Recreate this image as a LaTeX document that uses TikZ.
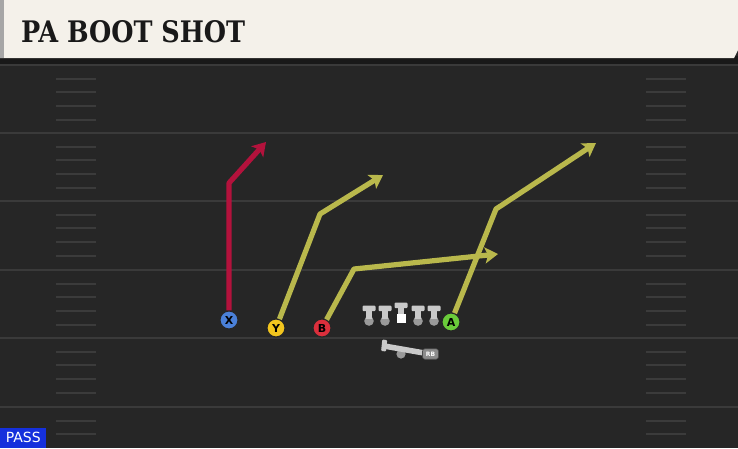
\documentclass[tikz,border=0pt]{standalone}
\usepackage{fontspec}
\setmainfont{DejaVu Sans}
\newfontfamily\titlefont{DejaVu Serif Condensed Bold}
\usetikzlibrary{arrows.meta}
\definecolor{field}{HTML}{262626}
\definecolor{yardline}{HTML}{3A3A3A}
\definecolor{hashc}{HTML}{3B3B3B}
\definecolor{cream}{HTML}{F4F1EA}
\definecolor{routered}{HTML}{B3123C}
\definecolor{routeyel}{HTML}{B9B84C}
\definecolor{pblue}{HTML}{4A80D8}
\definecolor{pyellow}{HTML}{F2C51E}
\definecolor{pred}{HTML}{DB2F3C}
\definecolor{pgreen}{HTML}{6ACB3A}
\definecolor{passblue}{HTML}{1530DC}
\definecolor{linegray}{HTML}{C9C9C9}
\definecolor{dotgray}{HTML}{9A9A9A}
\tikzset{
  player/.style={circle, draw=black!85, line width=1.1pt, minimum size=18pt, inner sep=0pt,
    font=\bfseries\fontsize{11}{11}\selectfont, text=black},
  route/.style={line width=5.2pt, -{Stealth[length=13pt,width=16pt,inset=3pt]}, line join=round},
  yard/.style={yardline, line width=1.8pt},
  hash/.style={hashc, line width=2pt},
}
\begin{document}
\begin{tikzpicture}[x=1pt,y=-1pt]
\useasboundingbox (0,0) rectangle (738,448);
\fill[field] (0,0) rectangle (738,448);
% yard lines
\foreach \y in {65,133,201,270,338,407} \draw[yard] (0,\y) -- (738,\y);
% hashes
\foreach \b in {65,133,201,270,338} {
  \foreach \k in {1,2,3,4} {
    \draw[hash] (56,\b+\k*13.7) -- (96,\b+\k*13.7);
    \draw[hash] (646,\b+\k*13.7) -- (686,\b+\k*13.7);
  }
}
\foreach \k in {1,2} {
  \draw[hash] (56,407+\k*13.7) -- (96,407+\k*13.7);
  \draw[hash] (646,407+\k*13.7) -- (686,407+\k*13.7);
}
% title bar
\fill[black!90] (0,56) rectangle (738,64);
\fill[cream] (0,0) -- (738,0) -- (738,50) -- (734,58) -- (0,58) -- cycle;
\fill[black!35] (0,0) rectangle (4,58);
\node[anchor=west, inner sep=0pt, text=black!90] (title) at (21,32)
  {\resizebox{224pt}{22pt}{\titlefont PA BOOT SHOT}};
% players
\node[player, fill=pblue] (X) at (229,320) {X};
\node[player, fill=pyellow] (Y) at (276,328) {Y};
\node[player, fill=pred] (B) at (322,328) {B};
\node[player, fill=pgreen] (A) at (451,322) {A};
% route turn points
\coordinate (x1) at (229,183); \coordinate (x2) at (266,142);
\coordinate (y1) at (320,214); \coordinate (y2) at (383,175);
\coordinate (b1) at (354,269); \coordinate (b2) at (498,254);
\coordinate (a1) at (496,209); \coordinate (a2) at (596,143);
% routes
\draw[route, routered] (X) -- (x1) -- (x2);
\draw[route, routeyel] (Y) -- (y1) -- (y2);
\draw[route, routeyel] (B) -- (b1) -- (b2);
\draw[route, routeyel] (A) -- (a1) -- (a2);
% linemen
\foreach \x/\n in {369/l1,385/l2,418/l4,434/l5} {
  \fill[dotgray] (\x,321) circle (4.8);
  \fill[linegray] (\x-2.7,309) rectangle (\x+2.7,319);
  \fill[linegray, rounded corners=1pt] (\x-6.5,305.5) rectangle (\x+6.5,311);
  \coordinate (\n) at (\x,321);
}
\fill[linegray] (398.3,306) rectangle (403.7,315);
\fill[linegray, rounded corners=1pt] (394.5,302.5) rectangle (407.5,308);
\node[fill=white, minimum size=9pt, inner sep=0pt] (C) at (401,318.5) {};
% running back
\fill[dotgray] (401,354) circle (4.6);
\fill[linegray] (386,343.5) -- (426,350.5) -- (425.1,356) -- (385.1,349) -- cycle;
\fill[linegray, rounded corners=1pt] (382.3,339.5) -- (387.2,340.1) -- (386,351.5) -- (381.1,350.9) -- cycle;
\node[fill=black!45, draw=black!70, line width=0.6pt, rounded corners=2.5pt, inner sep=0pt,
  minimum width=16pt, minimum height=10.5pt, font=\bfseries\fontsize{6}{6}\selectfont, text=white] (RB) at (430.5,354) {RB};
% pass tag
\node[fill=passblue, text=white, anchor=south west, inner sep=0pt, minimum width=46pt, minimum height=20pt, font=\fontsize{14}{14}\selectfont] (pass) at (0,448) {PASS};
\end{tikzpicture}
\end{document}
